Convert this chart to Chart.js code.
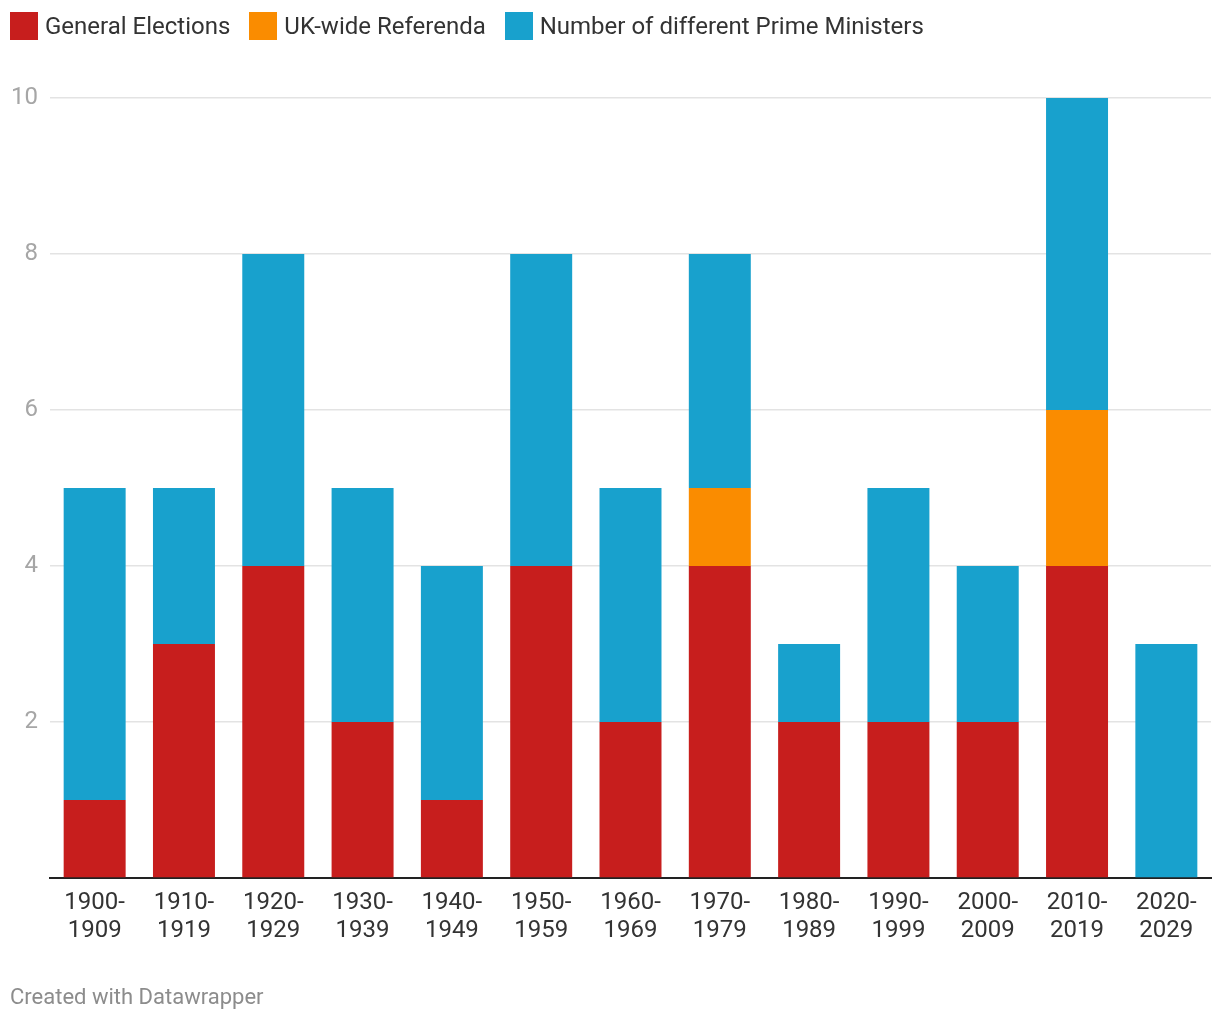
<!DOCTYPE html>
<html>
<head>
<meta charset="utf-8">
<script src="https://cdn.jsdelivr.net/npm/chart.js@4"></script>
<style>
    body { margin: 0; background: #fff; font-family: Roboto, sans-serif; }
    #wrap { position: relative; width: 1220px; height: 1020px; }
    #chart { position: absolute; left: 0; top: 0; }
    .legend { position: absolute; left: 10px; top: 12px; height: 28px; display: flex; align-items: center; }
    .legend-item { display: flex; align-items: center; margin-right: 19px; font-size: 24px; color: #333; }
    .legend-item span.box { width: 28px; height: 28px; margin-right: 7px; display: inline-block; }
    .footer { position: absolute; left: 10px; top: 984px; font-size: 22px; color: #8c8c8c; }
</style>
</head>
<body>
<div id="wrap">
    <canvas id="chart" width="1220" height="1020"></canvas>
    <div class="legend" id="legend"></div>
    <div class="footer">Created with Datawrapper</div>
</div>
<script>
// decades
const decades = [
    ["1900-", "1909"], ["1910-", "1919"], ["1920-", "1929"], ["1930-", "1939"],
    ["1940-", "1949"], ["1950-", "1959"], ["1960-", "1969"], ["1970-", "1979"],
    ["1980-", "1989"], ["1990-", "1999"], ["2000-", "2009"], ["2010-", "2019"],
    ["2020-", "2029"]
];

const generalElections = [1, 3, 4, 2, 1, 4, 2, 4, 2, 2, 2, 4, 0];
const referenda        = [0, 0, 0, 0, 0, 0, 0, 1, 0, 0, 0, 2, 0];
const primeMinisters   = [4, 2, 4, 3, 3, 4, 3, 3, 1, 3, 2, 4, 3];

const yTicks = [2, 4, 6, 8, 10];

const series = [
    { label: "General Elections", data: generalElections, color: "#c71e1d" },
    { label: "UK-wide Referenda", data: referenda, color: "#fa8c00" },
    { label: "Number of different Prime Ministers", data: primeMinisters, color: "#18a1cd" }
];

// html legend
const legend = document.getElementById("legend");
legend.innerHTML = series.map(s => `
    <div class="legend-item"><span class="box" style="background:${s.color}"></span>${s.label}</div>
`).join('');

new Chart(document.getElementById("chart").getContext("2d"), {
    type: "bar",
    data: {
        labels: decades,
        datasets: series.map(s => ({
            label: s.label,
            data: s.data,
            backgroundColor: s.color,
            borderWidth: 0,
            categoryPercentage: 1,
            barPercentage: 0.694
        }))
    },
    options: {
        responsive: false,
        animation: false,
        layout: { padding: { top: 98, right: 9, bottom: 0, left: 0 } },
        plugins: {
            legend: { display: false },
            tooltip: { enabled: false }
        },
        scales: {
            x: {
                stacked: true,
                afterFit: scale => { scale.height = 142; },
                grid: { display: false, drawTicks: false },
                border: { display: true, color: "#222", width: 2 },
                ticks: {
                    color: "#333",
                    padding: 11,
                    maxRotation: 0,
                    autoSkip: false,
                    font: { family: "Roboto", size: 24, lineHeight: 1.167 }
                }
            },
            y: {
                stacked: true,
                min: 0,
                max: 10,
                afterFit: scale => { scale.width = 50; },
                afterBuildTicks: scale => {
                    scale.ticks = [0].concat(yTicks).map(v => ({ value: v }));
                },
                grid: {
                    drawTicks: false,
                    color: ctx => ctx.tick && ctx.tick.value === 0 ? "rgba(0,0,0,0)" : "#e3e3e3",
                    lineWidth: 1.5
                },
                border: { display: false },
                ticks: {
                    color: "#a6a6a6",
                    padding: 12,
                    font: { family: "Roboto", size: 24 },
                    callback: v => v === 0 ? "" : v
                }
            }
        }
    }
});
</script>
</body>
</html>
